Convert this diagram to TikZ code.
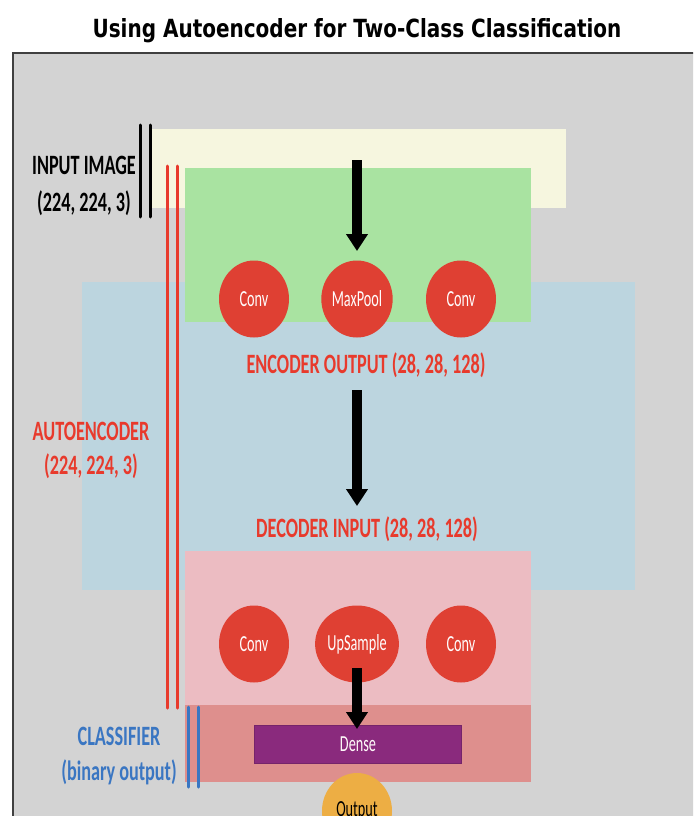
\documentclass[tikz,border=0pt]{standalone}
\usepackage{fontspec}
\usetikzlibrary{arrows.meta,shapes.geometric}
\newfontfamily\labfont{Carlito}[FakeStretch=0.65]
\newfontfamily\circfont{Carlito}[FakeStretch=0.62]
\newfontfamily\titlefont{DejaVu Sans}[FakeStretch=0.80]
\definecolor{axgray}{HTML}{D3D3D3}
\definecolor{beige}{HTML}{F6F6DF}
\definecolor{encgreen}{HTML}{A9E3A1}
\definecolor{blueregion}{HTML}{BCD5DF}
\definecolor{pinkregion}{HTML}{ECBCC2}
\definecolor{clsregion}{HTML}{DE8F8D}
\definecolor{layerred}{HTML}{DF4033}
\definecolor{densepurple}{HTML}{8A2A7D}
\definecolor{outorange}{HTML}{EDAE44}
\definecolor{labred}{HTML}{E83A2C}
\definecolor{labblue}{HTML}{3A76C2}
\tikzset{
  layer/.style={ellipse, minimum width=70pt, minimum height=77pt, inner sep=0pt,
    fill=layerred, text=white!95!pink, font=\circfont\fontsize{23}{26}\selectfont},
  biglab/.style={inner sep=0pt, font=\labfont\bfseries\fontsize{28}{32}\selectfont},
  flowarrow/.style={line width=10pt, draw=black, -{Triangle[width=21pt,length=17pt]}},
  bracket/.style={line width=3pt, line cap=round},
}
\begin{document}
\begin{tikzpicture}[x=1pt,y=-1pt]
\useasboundingbox (0,0) rectangle (693,816);
\clip (0,0) rectangle (693,816);
% title
\node[font=\titlefont\bfseries\fontsize{25}{28}\selectfont, inner sep=0pt] (title) at (357,31) {Using Autoencoder for Two-Class Classification};
% axes frame
\draw[line width=1.5pt, draw=black!75, fill=axgray] (13,53) rectangle (740,880);
% regions
\fill[beige] (150,129) rectangle (566,208);
\fill[blueregion] (82,282) rectangle (635,590);
\fill[encgreen] (185,168) rectangle (531,322);
\fill[pinkregion] (185,551) rectangle (531,705);
\fill[clsregion] (185,705) rectangle (531,782);
% layers
\node[layer] (c1) at (254,299) {Conv};
\node[layer] (mp) at (357,299) {MaxPool};
\node[layer] (c2) at (461,299) {Conv};
\node[layer] (d1) at (254,644) {Conv};
\node[layer] (up) at (357,644) {UpSample};
\node[layer] (d2) at (461,644) {Conv};
\node[rectangle, fill=densepurple, draw=densepurple!85!black, line width=0.6pt, minimum width=207pt, minimum height=38pt, inner sep=0pt,
  text=white!90!pink, font=\circfont\fontsize{23}{26}\selectfont] (dense) at (358,744) {Dense};
\node[ellipse, fill=outorange, minimum width=70pt, minimum height=76pt, inner sep=0pt,
  font=\circfont\fontsize{23}{26}\selectfont, text=black] (out) at (357,811) {Output};
% labels
\node[biglab, text=labred] (encout) at (366,365) {ENCODER OUTPUT (28, 28, 128)};
\node[biglab, text=labred] (decin) at (367,529) {DECODER INPUT (28, 28, 128)};
\node[biglab, text=black] (inimg) at (84,165) {INPUT IMAGE};
\node[biglab, text=black] (inshape) at (84,203) {(224, 224, 3)};
\node[biglab, text=labred] (ae) at (91,431) {AUTOENCODER};
\node[biglab, text=labred] (aeshape) at (91,466) {(224, 224, 3)};
\node[biglab, text=labblue] (cls) at (119,736) {CLASSIFIER};
\node[biglab, text=labblue] (clsout) at (119,772) {(binary output)};
% arrows
\coordinate (a1s) at (357,160);
\coordinate (a1e) at (357,251);
\coordinate (a2s) at (357,390);
\coordinate (a2e) at (357,506);
\coordinate (a3s) at (357,668);
\coordinate (a3e) at (357,729);
\draw[flowarrow] (a1s) -- (a1e);
\draw[flowarrow] (a2s) -- (a2e);
\draw[flowarrow] (a3s) -- (a3e);
% brackets
\coordinate (b1t) at (140,125); \coordinate (b1b) at (140,217);
\coordinate (b2t) at (150,125); \coordinate (b2b) at (150,217);
\draw[bracket, black] (b1t) -- (b1b);
\draw[bracket, black] (b2t) -- (b2b);
\coordinate (r1t) at (167,166); \coordinate (r1b) at (167,708);
\coordinate (r2t) at (177,166); \coordinate (r2b) at (177,708);
\draw[bracket, labred] (r1t) -- (r1b);
\draw[bracket, labred] (r2t) -- (r2b);
\coordinate (u1t) at (188,707); \coordinate (u1b) at (188,787);
\coordinate (u2t) at (198,707); \coordinate (u2b) at (198,787);
\draw[bracket, labblue] (u1t) -- (u1b);
\draw[bracket, labblue] (u2t) -- (u2b);
\end{tikzpicture}
\end{document}
